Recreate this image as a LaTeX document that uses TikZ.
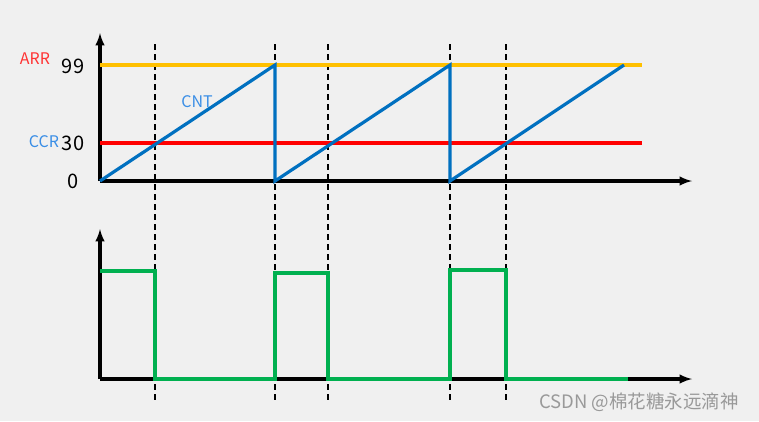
\documentclass[tikz,border=0pt]{standalone}
\usepackage{fontspec}
\setmainfont{Noto Sans CJK SC}
\usepackage{tikz}
\usetikzlibrary{arrows}

\definecolor{bgGray}{HTML}{F0F0F0}
\definecolor{arrOrange}{HTML}{FFC000}
\definecolor{cntBlue}{HTML}{0070C0}
\definecolor{lblBlue}{HTML}{3A8EE6}
\definecolor{lblRed}{HTML}{FF3333}
\definecolor{pwmGreen}{HTML}{00B050}

\begin{document}
\begin{tikzpicture}[x=1pt,y=-1pt]
			\tikzstyle{axis} = [draw,line width=3.2pt,-latex,black]
			\tikzstyle{level} = [draw,line width=3.2pt]
			\tikzstyle{wave} = [draw,line width=3.2pt,line join=miter]
			\tikzstyle{marker} = [draw,line width=1.6pt,dash pattern=on 6pt off 4pt,black]
			\tikzstyle{tick label} = [inner sep=0pt,font=\fontsize{20}{20}\selectfont]
			\tikzstyle{name label} = [inner sep=0pt,font=\fontsize{16}{16}\selectfont]
			
			\fill[bgGray] (0,0) rectangle (759,421);
			\useasboundingbox (0,0) rectangle (759,421);
			
			% compare events
			\foreach \xm in {155,275,328,450,506}
				\path[marker] (\xm,44) -- (\xm,401);
			
			% upper plot: counter
			\coordinate (o1) at (100,181);
			\coordinate (y1) at (100,33);
			\coordinate (x1) at (692,181);
			\coordinate (arrL) at (100,65);
			\coordinate (arrR) at (642,65);
			\coordinate (ccrL) at (100,143);
			\coordinate (ccrR) at (642,143);
			
			\path[axis] (o1) -- (y1);
			\path[axis] (o1) -- (x1);
			\path[level,arrOrange] (arrL) -- (arrR);
			\path[level,red] (ccrL) -- (ccrR);
			\path[wave,cntBlue] (o1) -- (275,65) -- (275,181) -- (450,65) -- (450,181) -- (624,65);
			
			\node[tick label] (t99) at (73,66) {99};
			\node[tick label] (t30) at (73,143) {30};
			\node[tick label] (t0) at (73,181) {0};
			\node[name label,lblRed] (arr) at (35,59) {ARR};
			\node[name label,lblBlue] (ccr) at (44,142) {CCR};
			\node[name label,lblBlue] (cnt) at (197,102) {CNT};
			
			% lower plot: output
			\coordinate (o2) at (100,379);
			\coordinate (y2) at (100,229);
			\coordinate (x2) at (692,379);
			
			\path[axis] (o2) -- (y2);
			\path[axis] (o2) -- (x2);
			\path[wave,pwmGreen] (100,271) -- (155,271) -- (155,379) -- (275,379) -- (275,273) -- (328,273) -- (328,379) -- (450,379) -- (450,270) -- (506,270) -- (506,379) -- (628,379);
			
			\node[font=\fontsize{18.5}{18.5}\selectfont,text=black!40,inner sep=0pt] (mark) at (639,402) {CSDN @棉花糖永远滴神};
		\end{tikzpicture}
\end{document}
